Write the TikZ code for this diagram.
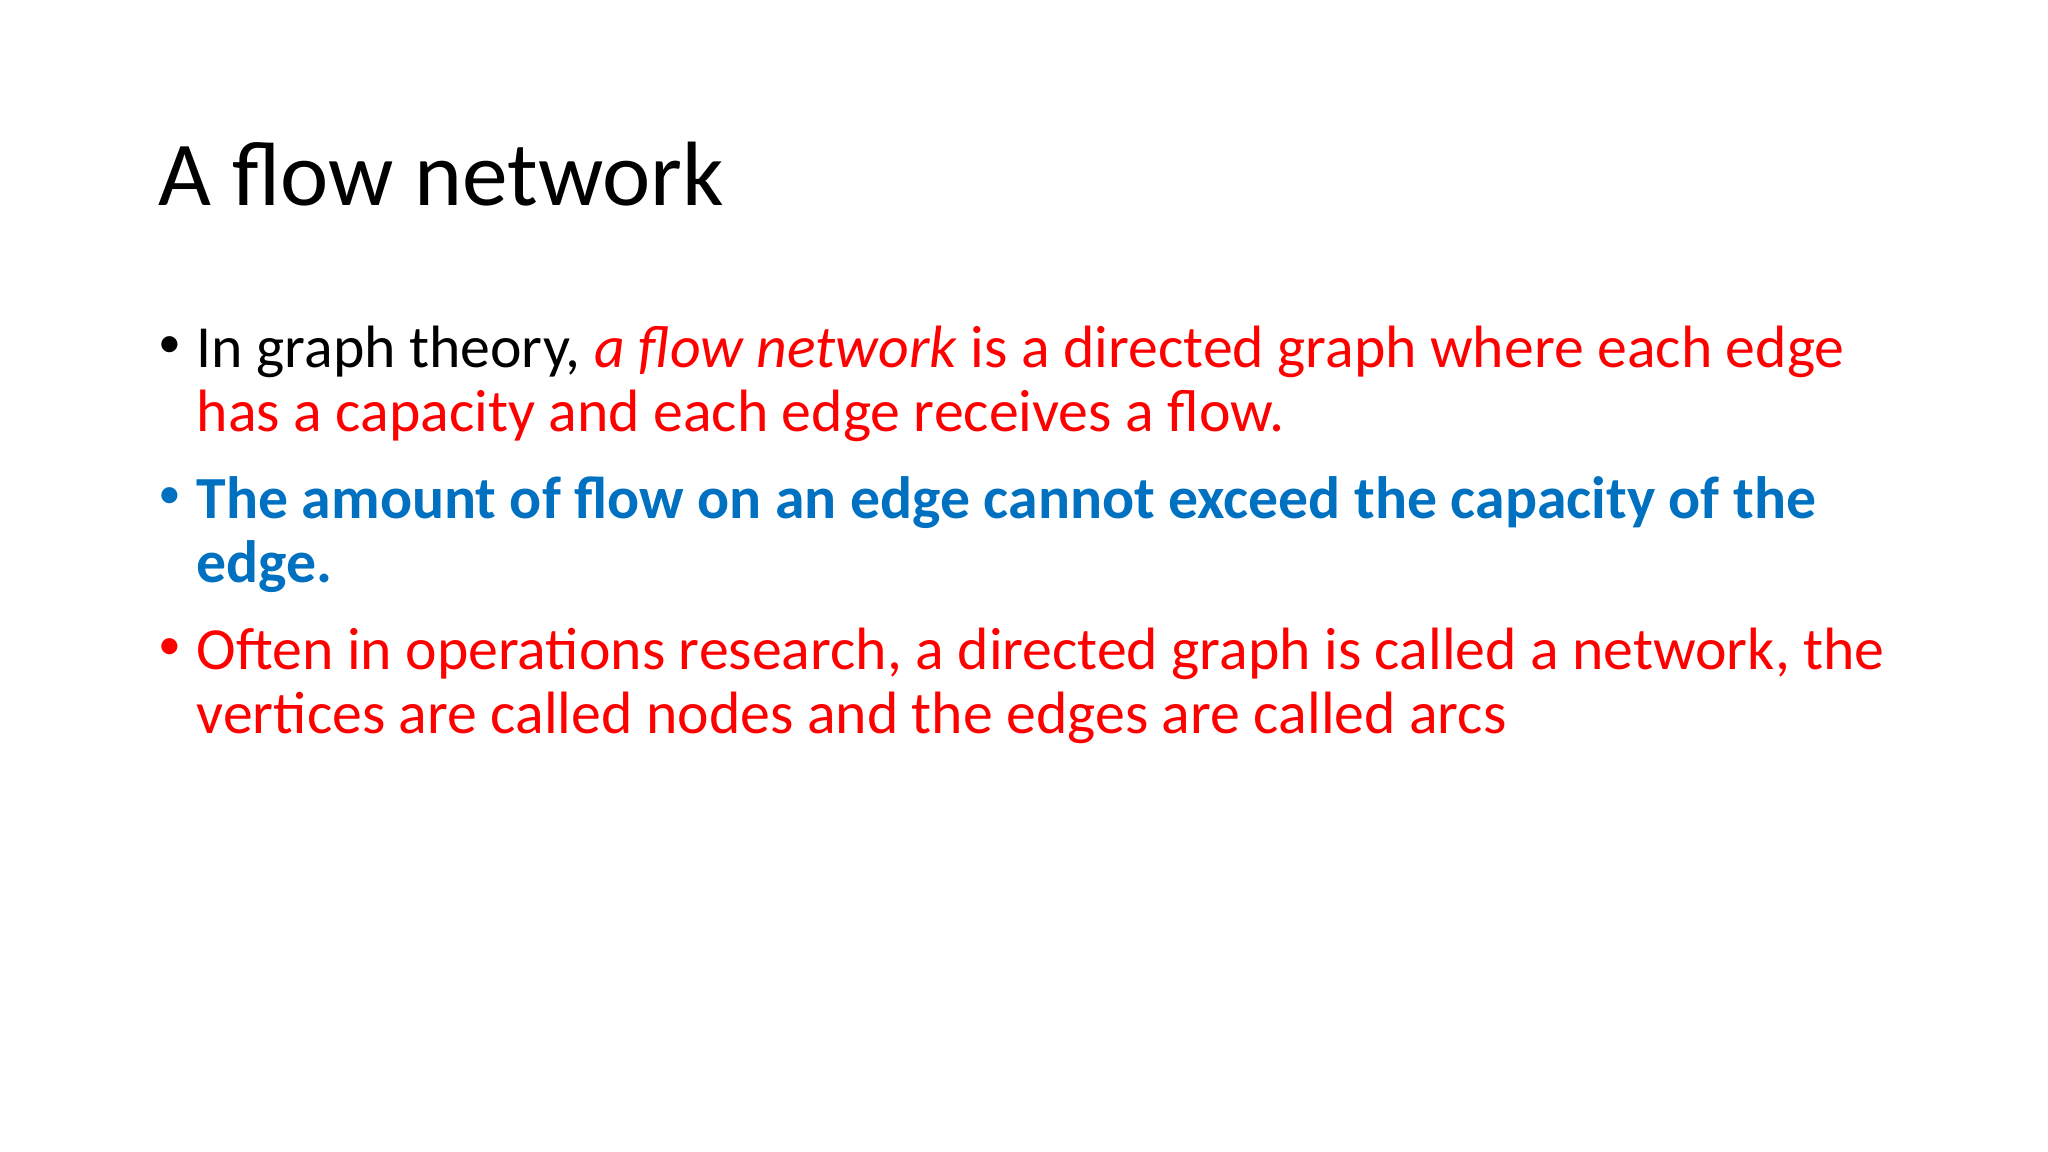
\documentclass[tikz,border=0pt]{standalone}
\usepackage{fontspec}
\setmainfont{Carlito}
\definecolor{pred}{HTML}{FF0000}
\definecolor{pblue}{HTML}{0070C0}
\begin{document}
\begin{tikzpicture}[x=1cm,y=1cm,
  line/.style={anchor=base west,inner sep=0pt,font=\fontsize{17pt}{18pt}\selectfont},
  bul/.style={anchor=base west,inner sep=0pt,font=\fontsize{13pt}{14pt}\selectfont}]
\useasboundingbox (0,0) rectangle (20.48,11.52);
\node[anchor=base west,inner sep=0pt,font=\fontsize{26pt}{28pt}\selectfont] (title) at (1.58,11.52-2.06) {A flow network};
\node[bul] (b1) at (1.58,11.52-3.58) {•};
\node[line] (l1) at (1.96,11.52-3.68) {In graph theory, \textcolor{pred}{\textit{a flow network} is a directed graph where each edge}};
\node[line,text=pred] (l2) at (1.96,11.52-4.32) {has a capacity and each edge receives a flow.};
\node[bul,text=pblue] (b2) at (1.58,11.52-5.09) {•};
\node[line,text=pblue,font=\fontsize{17pt}{18pt}\selectfont\bfseries] (l3) at (1.96,11.52-5.19) {The amount of flow on an edge cannot exceed the capacity of the};
\node[line,text=pblue,font=\fontsize{17pt}{18pt}\selectfont\bfseries] (l4) at (1.96,11.52-5.83) {edge.};
\node[bul,text=pred] (b3) at (1.58,11.52-6.60) {•};
\node[line,text=pred] (l5) at (1.96,11.52-6.70) {Often in operations research, a directed graph is called a network, the};
\node[line,text=pred] (l6) at (1.96,11.52-7.34) {vertices are called nodes and the edges are called arcs};
\end{tikzpicture}
\end{document}
